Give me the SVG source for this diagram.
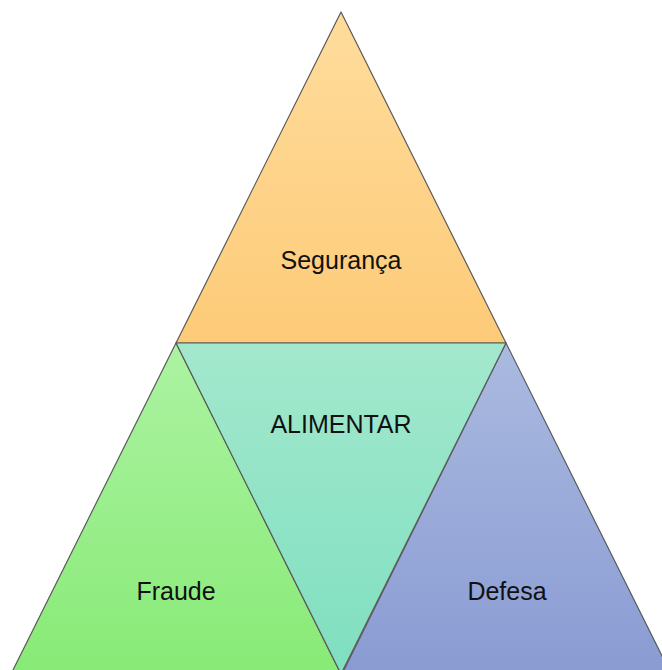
<svg xmlns="http://www.w3.org/2000/svg" width="662" height="670" viewBox="0 0 662 670">
<defs>
<linearGradient id="gO" x1="0" y1="0" x2="0" y2="1"><stop offset="0" stop-color="#FFDC9C"/><stop offset="1" stop-color="#FDCB78"/></linearGradient>
<linearGradient id="gT" x1="0" y1="0" x2="0" y2="1"><stop offset="0" stop-color="#A3E8CD"/><stop offset="1" stop-color="#7FDFC0"/></linearGradient>
<linearGradient id="gG" x1="0" y1="0" x2="0" y2="1"><stop offset="0" stop-color="#ACF3A2"/><stop offset="1" stop-color="#88EA76"/></linearGradient>
<linearGradient id="gB" x1="0" y1="0" x2="0" y2="1"><stop offset="0" stop-color="#AABAE0"/><stop offset="1" stop-color="#8A9BD3"/></linearGradient>
</defs>
<style>
.tri{stroke:#5a5a5a;stroke-width:1.2;stroke-linejoin:round}
.lbl{font-family:"Liberation Sans",Arial,sans-serif;font-size:25px;fill:#111;text-anchor:middle}
</style>
<g id="seguranca">
<polygon class="tri" points="341,12 506,343 176,343" fill="url(#gO)"/>
<text class="lbl" x="341" y="269">Segurança</text>
</g>
<g id="fraude">
<polygon class="tri" points="176,343 341,674 11,674" fill="url(#gG)"/>
<text class="lbl" x="176" y="600">Fraude</text>
</g>
<g id="defesa">
<polygon class="tri" points="506,343 671,674 342,674" fill="url(#gB)"/>
<text class="lbl" x="507" y="600">Defesa</text>
</g>
<g id="alimentar">
<polygon class="tri" points="176,343 506,343 341,674" fill="url(#gT)"/>
<text class="lbl" x="341" y="433">ALIMENTAR</text>
</g>
<g id="connectors"></g>
</svg>
